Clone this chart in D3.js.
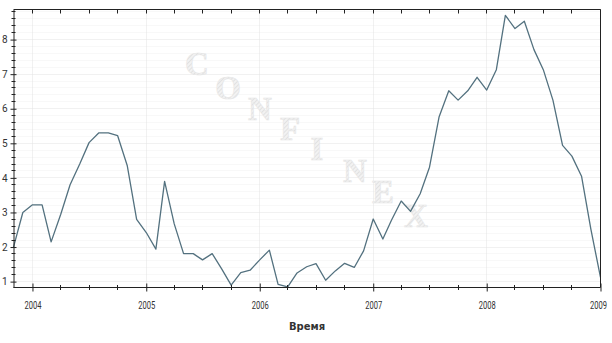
<!DOCTYPE html>
<html>
<head>
<meta charset="utf-8">
<script src="https://cdn.jsdelivr.net/npm/d3@7"></script>
<style>
  body { margin: 0; background: #fff; }
  svg { display: block; }
</style>
</head>
<body>
<svg id="chart" width="612" height="343"></svg>
<script>
// monthly values, Nov 2003 .. Jan 2009
const months = [
  "2003-11","2003-12",
  "2004-01","2004-02","2004-03","2004-04","2004-05","2004-06","2004-07","2004-08","2004-09","2004-10","2004-11","2004-12",
  "2005-01","2005-02","2005-03","2005-04","2005-05","2005-06","2005-07","2005-08","2005-09","2005-10","2005-11","2005-12",
  "2006-01","2006-02","2006-03","2006-04","2006-05","2006-06","2006-07","2006-08","2006-09","2006-10","2006-11","2006-12",
  "2007-01","2007-02","2007-03","2007-04","2007-05","2007-06","2007-07","2007-08","2007-09","2007-10","2007-11","2007-12",
  "2008-01","2008-02","2008-03","2008-04","2008-05","2008-06","2008-07","2008-08","2008-09","2008-10","2008-11","2008-12",
  "2009-01"
];
const values = [
  2.0, 3.0,
  3.22, 3.22, 2.15, 2.95, 3.8, 4.4, 5.02, 5.3, 5.3, 5.22, 4.35, 2.8,
  2.42, 1.94, 3.9, 2.67, 1.81, 1.81, 1.63, 1.81, 1.36, 0.9, 1.26, 1.33,
  1.63, 1.91, 0.92, 0.85, 1.25, 1.43, 1.52, 1.04, 1.31, 1.53, 1.41, 1.89,
  2.81, 2.23, 2.78, 3.33, 3.03, 3.54, 4.31, 5.77, 6.52, 6.25, 6.52, 6.91,
  6.54, 7.13, 8.70, 8.32, 8.53, 7.71, 7.13, 6.25, 4.94, 4.63, 4.05, 2.52,
  1.12
];
const yTicks = [1, 2, 3, 4, 5, 6, 7, 8];
const yearTicks = ["2004", "2005", "2006", "2007", "2008", "2009"];
const axisTitle = "Время";
const watermark = "CONFINEX";

const parseMonth = d3.timeParse("%Y-%m");
const data = months.map((m, i) => ({date: parseMonth(m), value: values[i]}));

const svg = d3.select("#chart");
const plot = {left: 13.5, right: 600.5, top: 9.5, bottom: 287.5};

const x = d3.scaleTime()
    .domain([parseMonth("2003-11"), parseMonth("2009-01")])
    .range([plot.left, plot.right]);
const y = d3.scaleLinear()
    .domain([0.83, 8.87])
    .range([plot.bottom, plot.top]);

const yearDates = yearTicks.map(t => d3.timeParse("%Y")(t));
const quarterDates = d3.timeMonth.every(3).range(parseMonth("2003-11"), parseMonth("2009-01"))
    .filter(d => d.getMonth() !== 0);
const minorY = d3.range(0.8, 8.81, 0.2).filter(v => Math.abs(v - Math.round(v)) > 0.01 && v > 0.83);

const px = v => Math.round(v - 0.5) + 0.5;

// hatch pattern for the watermark letters
const hatch = svg.append("defs").append("pattern")
    .attr("id", "hatch")
    .attr("patternUnits", "userSpaceOnUse")
    .attr("width", 3).attr("height", 3)
    .attr("patternTransform", "rotate(45)");
hatch.append("rect").attr("width", 3).attr("height", 3).attr("fill", "#f2f2f2");
hatch.append("line").attr("x1", 0).attr("y1", 0).attr("x2", 0).attr("y2", 3)
    .attr("stroke", "#dadada").attr("stroke-width", 1.4);

// grid
const grid = svg.append("g");
grid.selectAll(".hmin").data(minorY).enter().append("line")
    .attr("x1", plot.left).attr("x2", plot.right)
    .attr("y1", d => px(y(d))).attr("y2", d => px(y(d)))
    .attr("stroke", "#f1f1f1").attr("stroke-dasharray", "1,1");
grid.selectAll(".hmaj").data(yTicks).enter().append("line")
    .attr("x1", plot.left).attr("x2", plot.right)
    .attr("y1", d => px(y(d))).attr("y2", d => px(y(d)))
    .attr("stroke", "#e2e2e2").attr("stroke-dasharray", "1,1");
grid.selectAll(".vmaj").data(yearDates.slice(0, -1)).enter().append("line")
    .attr("x1", d => px(x(d))).attr("x2", d => px(x(d)))
    .attr("y1", plot.top).attr("y2", plot.bottom)
    .attr("stroke", "#e2e2e2").attr("stroke-dasharray", "1,1");

// watermark
const wm = svg.append("g")
    .attr("font-family", "'Liberation Serif', 'DejaVu Serif', serif")
    .attr("font-weight", "bold")
    .attr("font-size", 33)
    .attr("text-anchor", "middle")
    .attr("fill", "url(#hatch)")
    .attr("stroke", "#e6e6e6")
    .attr("stroke-width", 0.6);
const wmPos = [[197, 63], [228, 87], [260, 108], [290, 128], [317, 148], [355, 170], [383, 191], [416, 215]];
wm.selectAll("text").data(watermark.split("")).enter().append("text")
    .attr("x", (d, i) => wmPos[i][0])
    .attr("y", (d, i) => wmPos[i][1] + 12)
    .text(d => d);

// line
const line = d3.line().x(d => x(d.date)).y(d => y(d.value));
svg.append("path").datum(data)
    .attr("d", line)
    .attr("fill", "none")
    .attr("stroke", "#53717f")
    .attr("stroke-width", 1.3)
    .attr("stroke-linejoin", "round");

// frame
svg.append("path")
    .attr("d", `M${plot.left},${plot.top}H${plot.right}V${plot.bottom}`)
    .attr("fill", "none").attr("stroke", "#222").attr("stroke-width", 1);

// top ticks
svg.append("g").selectAll("line").data(quarterDates.concat(yearDates)).enter().append("line")
    .attr("x1", d => px(x(d))).attr("x2", d => px(x(d)))
    .attr("y1", plot.top).attr("y2", plot.top + 4)
    .attr("stroke", "#222");

// x axis
const xAxis = svg.append("g").attr("transform", `translate(0,${plot.bottom})`)
    .call(d3.axisBottom(x).tickValues(yearDates).tickFormat(d3.timeFormat("%Y")).tickSizeInner(4).tickSizeOuter(0));
xAxis.select(".domain").attr("stroke", "#222").attr("d", `M${plot.left},0H${plot.right}`);
xAxis.selectAll(".tick line").attr("y1", -4).attr("y2", 4).attr("stroke", "#222");
xAxis.selectAll(".tick text")
    .attr("y", 14)
    .attr("font-family", "Roboto, 'Liberation Sans', sans-serif")
    .attr("font-size", 10)
    .attr("fill", "#333")
    .attr("textLength", 17)
    .attr("lengthAdjust", "spacingAndGlyphs");
// keep the last label inside the picture
xAxis.selectAll(".tick").filter((d, i, n) => i === n.length - 1).select("text")
    .attr("text-anchor", "end").attr("x", 6);
svg.append("g").selectAll("line").data(quarterDates).enter().append("line")
    .attr("x1", d => px(x(d))).attr("x2", d => px(x(d)))
    .attr("y1", plot.bottom - 2.5).attr("y2", plot.bottom + 2.5)
    .attr("stroke", "#222");

// y axis
const yAxis = svg.append("g").attr("transform", `translate(${plot.left},0)`)
    .call(d3.axisLeft(y).tickValues(yTicks).tickFormat(d3.format("d")).tickSizeInner(3).tickSizeOuter(0));
yAxis.select(".domain").attr("stroke", "#222");
yAxis.selectAll(".tick line").attr("x1", -3).attr("x2", 3).attr("stroke", "#222");
yAxis.selectAll(".tick text")
    .attr("x", -6)
    .attr("font-family", "Roboto, 'Liberation Sans', sans-serif")
    .attr("font-size", 10)
    .attr("fill", "#333");
svg.append("g").selectAll("line").data(minorY).enter().append("line")
    .attr("x1", plot.left - 2).attr("x2", plot.left + 2)
    .attr("y1", d => px(y(d))).attr("y2", d => px(y(d)))
    .attr("stroke", "#222");

// axis title
svg.append("text")
    .attr("x", (plot.left + plot.right) / 2)
    .attr("y", 330)
    .attr("text-anchor", "middle")
    .attr("font-family", "'DejaVu Sans', sans-serif")
    .attr("font-size", 10)
    .attr("font-weight", "bold")
    .attr("fill", "#333")
    .text(axisTitle);
</script>
</body>
</html>
